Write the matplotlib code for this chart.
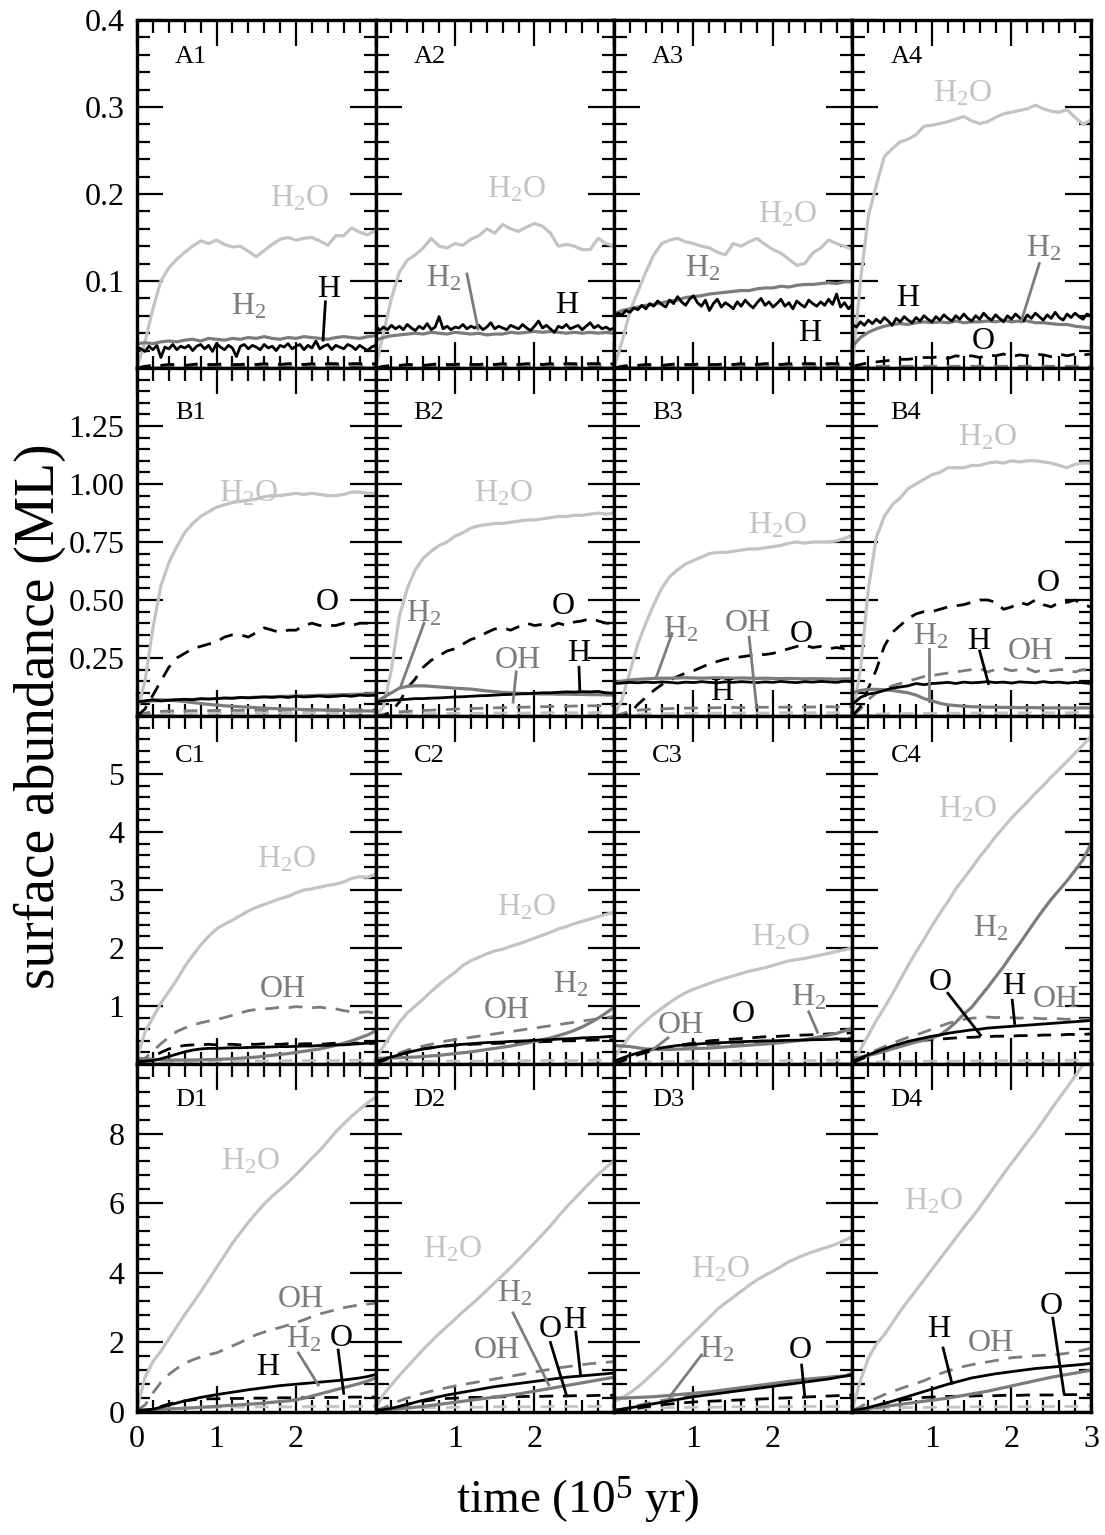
import matplotlib
matplotlib.use("Agg")
import matplotlib.pyplot as plt

plt.rcParams['font.family'] = ['Liberation Serif', 'DejaVu Serif']
plt.rcParams['mathtext.fontset'] = 'custom'
plt.rcParams['mathtext.rm'] = 'Liberation Serif'
plt.rcParams['mathtext.it'] = 'Liberation Serif'

# time grid (10^5 yr); the noisy H traces of row A are sampled finer
T = [i / 10 for i in range(31)]
TF = [i / 20 for i in range(61)]

# ---------------- row A ----------------
A1_H2O = [0.000, 0.030, 0.068, 0.100, 0.115, 0.125, 0.133, 0.140, 0.146, 0.143, 0.147, 0.142, 0.139, 0.140, 0.134, 0.128,
          0.135, 0.142, 0.148, 0.150, 0.147, 0.149, 0.150, 0.146, 0.141, 0.152, 0.152, 0.161, 0.156, 0.153, 0.158]
A1_H2 = [0.028, 0.029, 0.028, 0.030, 0.031, 0.030, 0.032, 0.033, 0.031, 0.034, 0.033, 0.032, 0.034, 0.033, 0.035, 0.034,
         0.036, 0.034, 0.033, 0.035, 0.034, 0.036, 0.035, 0.034, 0.033, 0.035, 0.036, 0.035, 0.034, 0.036, 0.037]
A1_H = [0.024, 0.022, 0.019, 0.025, 0.021, 0.026, 0.012, 0.024, 0.022, 0.027, 0.021, 0.025, 0.023, 0.026, 0.020, 0.025,
        0.027, 0.022, 0.026, 0.019, 0.028, 0.024, 0.021, 0.026, 0.023, 0.013, 0.025, 0.027, 0.022, 0.026, 0.024, 0.021,
        0.027, 0.023, 0.025, 0.020, 0.026, 0.024, 0.028, 0.022, 0.025, 0.027, 0.021, 0.026, 0.023, 0.031, 0.022, 0.025,
        0.027, 0.021, 0.026, 0.024, 0.022, 0.027, 0.025, 0.021, 0.026, 0.023, 0.020, 0.024, 0.026]
A_O = [0.000, 0.002, 0.003, 0.003, 0.004, 0.004, 0.003, 0.004, 0.005, 0.004, 0.004, 0.005, 0.004, 0.004, 0.005, 0.004,
       0.005, 0.004, 0.004, 0.005, 0.005, 0.004, 0.005, 0.004, 0.005, 0.005, 0.004, 0.005, 0.005, 0.004, 0.005]
A_OH = [0.000, 0.001, 0.001, 0.002, 0.002, 0.002, 0.002, 0.002, 0.002, 0.002, 0.002, 0.002, 0.002, 0.002, 0.002, 0.002,
        0.002, 0.002, 0.002, 0.002, 0.002, 0.002, 0.002, 0.002, 0.002, 0.002, 0.002, 0.002, 0.002, 0.002, 0.002]

A2_H2O = [0.000, 0.040, 0.080, 0.110, 0.124, 0.130, 0.138, 0.149, 0.140, 0.138, 0.143, 0.141, 0.148, 0.152, 0.160, 0.155,
          0.165, 0.160, 0.157, 0.162, 0.166, 0.163, 0.155, 0.140, 0.142, 0.140, 0.136, 0.136, 0.149, 0.143, 0.140]
A2_H2 = [0.032, 0.035, 0.037, 0.038, 0.039, 0.040, 0.039, 0.041, 0.040, 0.039, 0.041, 0.040, 0.039, 0.040, 0.038, 0.039,
         0.039, 0.041, 0.040, 0.041, 0.042, 0.041, 0.042, 0.041, 0.040, 0.041, 0.040, 0.041, 0.040, 0.041, 0.040]
A2_H = [0.050, 0.043, 0.047, 0.044, 0.049, 0.045, 0.048, 0.044, 0.050, 0.046, 0.043, 0.048, 0.045, 0.051, 0.044, 0.047,
        0.059, 0.045, 0.048, 0.044, 0.047, 0.046, 0.050, 0.045, 0.048, 0.046, 0.049, 0.044, 0.047, 0.052, 0.045, 0.048,
        0.046, 0.044, 0.049, 0.047, 0.045, 0.050, 0.046, 0.043, 0.048, 0.054, 0.046, 0.049, 0.045, 0.041, 0.048, 0.046,
        0.050, 0.045, 0.047, 0.049, 0.044, 0.048, 0.052, 0.046, 0.049, 0.045, 0.047, 0.044, 0.046]

A3_H2O = [0.000, 0.030, 0.065, 0.088, 0.110, 0.130, 0.143, 0.147, 0.149, 0.145, 0.143, 0.140, 0.138, 0.133, 0.130, 0.143,
          0.140, 0.145, 0.149, 0.142, 0.136, 0.132, 0.125, 0.118, 0.120, 0.132, 0.138, 0.147, 0.143, 0.140, 0.136]
A3_H2 = [0.062, 0.066, 0.068, 0.070, 0.072, 0.073, 0.075, 0.077, 0.078, 0.081, 0.082, 0.083, 0.085, 0.086, 0.087, 0.088,
         0.089, 0.089, 0.091, 0.092, 0.092, 0.094, 0.093, 0.095, 0.096, 0.096, 0.097, 0.098, 0.097, 0.099, 0.099]
A3_H = [0.058, 0.063, 0.061, 0.066, 0.064, 0.069, 0.067, 0.072, 0.068, 0.074, 0.071, 0.077, 0.073, 0.070, 0.078, 0.074,
        0.082, 0.076, 0.072, 0.079, 0.083, 0.075, 0.071, 0.078, 0.066, 0.074, 0.079, 0.070, 0.075, 0.072, 0.068, 0.076,
        0.071, 0.078, 0.073, 0.069, 0.075, 0.080, 0.072, 0.076, 0.070, 0.074, 0.079, 0.071, 0.075, 0.068, 0.077, 0.073,
        0.070, 0.078, 0.074, 0.071, 0.076, 0.072, 0.079, 0.073, 0.085, 0.070, 0.075, 0.068, 0.073]

A4_H2O = [0.000, 0.100, 0.175, 0.210, 0.243, 0.252, 0.260, 0.263, 0.268, 0.278, 0.279, 0.281, 0.283, 0.286, 0.289, 0.284,
          0.281, 0.283, 0.288, 0.292, 0.294, 0.296, 0.298, 0.302, 0.298, 0.295, 0.294, 0.297, 0.288, 0.280, 0.285]
A4_H2 = [0.025, 0.035, 0.041, 0.045, 0.048, 0.050, 0.051, 0.050, 0.052, 0.053, 0.052, 0.053, 0.052, 0.054, 0.052, 0.053,
         0.053, 0.054, 0.053, 0.055, 0.053, 0.054, 0.054, 0.052, 0.052, 0.051, 0.050, 0.050, 0.048, 0.047, 0.046]
A4_H = [0.050, 0.047, 0.053, 0.049, 0.055, 0.051, 0.056, 0.052, 0.058, 0.054, 0.049, 0.057, 0.053, 0.059, 0.055, 0.052,
        0.058, 0.054, 0.060, 0.056, 0.053, 0.059, 0.055, 0.061, 0.057, 0.054, 0.060, 0.056, 0.062, 0.057, 0.054, 0.060,
        0.056, 0.063, 0.058, 0.055, 0.061, 0.057, 0.053, 0.060, 0.056, 0.062, 0.058, 0.054, 0.061, 0.057, 0.063, 0.059,
        0.055, 0.061, 0.057, 0.064, 0.058, 0.055, 0.062, 0.058, 0.063, 0.059, 0.056, 0.062, 0.060]
A4_O = [0.002, 0.004, 0.006, 0.007, 0.008, 0.009, 0.010, 0.010, 0.011, 0.012, 0.012, 0.013, 0.011, 0.014, 0.013, 0.014,
        0.012, 0.015, 0.014, 0.016, 0.013, 0.015, 0.014, 0.016, 0.015, 0.013, 0.016, 0.014, 0.016, 0.015, 0.016]

# ---------------- row B ----------------
B1_H2O = [0.020, 0.150, 0.380, 0.560, 0.660, 0.730, 0.790, 0.830, 0.860, 0.880, 0.900, 0.910, 0.920, 0.925, 0.930, 0.935,
          0.945, 0.950, 0.950, 0.955, 0.960, 0.955, 0.960, 0.955, 0.950, 0.950, 0.955, 0.965, 0.965, 0.960, 0.960]
B1_O = [0.000, 0.030, 0.090, 0.150, 0.210, 0.250, 0.270, 0.290, 0.300, 0.310, 0.320, 0.340, 0.350, 0.350, 0.340, 0.360,
        0.380, 0.370, 0.360, 0.370, 0.370, 0.390, 0.400, 0.390, 0.390, 0.390, 0.400, 0.390, 0.400, 0.400, 0.410]
B1_H = [0.060, 0.065, 0.070, 0.065, 0.068, 0.070, 0.072, 0.070, 0.075, 0.073, 0.075, 0.078, 0.076, 0.080, 0.078, 0.080,
        0.082, 0.080, 0.083, 0.080, 0.085, 0.082, 0.084, 0.086, 0.083, 0.085, 0.088, 0.085, 0.090, 0.088, 0.090]
B1_H2 = [0.060, 0.065, 0.068, 0.070, 0.068, 0.066, 0.062, 0.058, 0.054, 0.050, 0.047, 0.044, 0.042, 0.040, 0.038, 0.036,
         0.034, 0.032, 0.031, 0.030, 0.029, 0.028, 0.027, 0.026, 0.025, 0.024, 0.024, 0.023, 0.022, 0.022, 0.021]
B1_H2O2 = [0.060, 0.062, 0.064, 0.066, 0.068, 0.070, 0.071, 0.072, 0.073, 0.074, 0.075, 0.076, 0.078, 0.079, 0.080, 0.082,
           0.083, 0.084, 0.085, 0.086, 0.087, 0.088, 0.089, 0.090, 0.091, 0.092, 0.093, 0.094, 0.095, 0.096, 0.098]
B1_OH = [0.000, 0.012, 0.018, 0.020, 0.021, 0.022, 0.022, 0.023, 0.023, 0.023, 0.024, 0.024, 0.024, 0.024, 0.025, 0.025,
         0.025, 0.025, 0.025, 0.026, 0.026, 0.026, 0.026, 0.026, 0.026, 0.027, 0.027, 0.027, 0.027, 0.027, 0.027]
B_O2 = [0.000, 0.004, 0.006, 0.008, 0.009, 0.010, 0.010, 0.011, 0.011, 0.011, 0.012, 0.012, 0.012, 0.012, 0.012, 0.013,
        0.013, 0.013, 0.013, 0.013, 0.013, 0.014, 0.014, 0.014, 0.014, 0.014, 0.014, 0.014, 0.015, 0.015, 0.015]

B2_H2O = [0.000, 0.040, 0.200, 0.430, 0.550, 0.630, 0.680, 0.710, 0.735, 0.750, 0.775, 0.790, 0.810, 0.820, 0.825, 0.830,
          0.830, 0.835, 0.840, 0.845, 0.845, 0.850, 0.855, 0.860, 0.860, 0.865, 0.865, 0.870, 0.875, 0.870, 0.875]
B2_O = [0.000, 0.000, 0.020, 0.060, 0.120, 0.160, 0.210, 0.240, 0.260, 0.280, 0.290, 0.310, 0.330, 0.340, 0.360, 0.375,
        0.380, 0.370, 0.385, 0.400, 0.390, 0.395, 0.385, 0.400, 0.390, 0.405, 0.410, 0.420, 0.410, 0.400, 0.400]
B2_H2 = [0.060, 0.080, 0.100, 0.120, 0.128, 0.130, 0.130, 0.128, 0.125, 0.123, 0.120, 0.118, 0.116, 0.112, 0.108, 0.105,
         0.102, 0.100, 0.098, 0.097, 0.096, 0.095, 0.095, 0.094, 0.094, 0.093, 0.093, 0.092, 0.092, 0.091, 0.090]
B2_H = [0.060, 0.065, 0.068, 0.070, 0.072, 0.075, 0.075, 0.077, 0.078, 0.080, 0.082, 0.083, 0.085, 0.087, 0.088, 0.090,
        0.092, 0.093, 0.095, 0.096, 0.098, 0.100, 0.100, 0.102, 0.104, 0.103, 0.105, 0.104, 0.106, 0.100, 0.098]
B2_OH = [0.000, 0.008, 0.014, 0.018, 0.020, 0.022, 0.024, 0.025, 0.027, 0.028, 0.030, 0.031, 0.032, 0.033, 0.034, 0.035,
         0.036, 0.037, 0.038, 0.038, 0.040, 0.040, 0.041, 0.042, 0.042, 0.043, 0.043, 0.044, 0.044, 0.045, 0.045]

B3_H2O = [0.000, 0.070, 0.190, 0.310, 0.400, 0.480, 0.550, 0.600, 0.630, 0.655, 0.670, 0.685, 0.700, 0.705, 0.705, 0.710,
          0.715, 0.720, 0.720, 0.725, 0.730, 0.735, 0.745, 0.750, 0.745, 0.750, 0.750, 0.750, 0.755, 0.765, 0.780]
B3_H2 = [0.145, 0.150, 0.155, 0.158, 0.160, 0.162, 0.163, 0.163, 0.164, 0.165, 0.164, 0.163, 0.164, 0.165, 0.164, 0.163,
         0.164, 0.163, 0.162, 0.163, 0.162, 0.161, 0.162, 0.161, 0.160, 0.161, 0.160, 0.160, 0.159, 0.160, 0.160]
B3_H = [0.140, 0.142, 0.145, 0.143, 0.146, 0.144, 0.147, 0.145, 0.142, 0.146, 0.144, 0.148, 0.145, 0.143, 0.147, 0.145,
        0.148, 0.146, 0.144, 0.147, 0.145, 0.149, 0.146, 0.144, 0.148, 0.146, 0.149, 0.147, 0.145, 0.150, 0.148]
B3_O = [0.000, 0.000, 0.010, 0.050, 0.080, 0.110, 0.135, 0.155, 0.170, 0.185, 0.195, 0.210, 0.225, 0.235, 0.245, 0.250,
        0.255, 0.260, 0.265, 0.265, 0.270, 0.280, 0.290, 0.300, 0.305, 0.295, 0.300, 0.290, 0.295, 0.290, 0.290]
B3_OH = [0.000, 0.010, 0.020, 0.025, 0.028, 0.030, 0.031, 0.032, 0.033, 0.034, 0.034, 0.035, 0.035, 0.036, 0.036, 0.037,
         0.036, 0.037, 0.037, 0.038, 0.037, 0.038, 0.038, 0.039, 0.038, 0.039, 0.039, 0.040, 0.039, 0.040, 0.040]

B4_H2O = [0.000, 0.200, 0.550, 0.770, 0.860, 0.910, 0.940, 0.980, 1.000, 1.020, 1.040, 1.050, 1.070, 1.070, 1.070, 1.080,
          1.080, 1.090, 1.095, 1.090, 1.100, 1.095, 1.100, 1.100, 1.095, 1.090, 1.080, 1.070, 1.085, 1.090, 1.090]
B4_O = [0.000, 0.040, 0.120, 0.200, 0.300, 0.360, 0.390, 0.420, 0.440, 0.450, 0.450, 0.460, 0.470, 0.475, 0.480, 0.490,
        0.500, 0.500, 0.490, 0.460, 0.470, 0.490, 0.480, 0.500, 0.480, 0.470, 0.490, 0.490, 0.500, 0.480, 0.470]
B4_H = [0.050, 0.080, 0.095, 0.100, 0.110, 0.120, 0.125, 0.130, 0.140, 0.135, 0.140, 0.142, 0.145, 0.140, 0.146, 0.143,
        0.145, 0.148, 0.144, 0.146, 0.142, 0.147, 0.145, 0.143, 0.148, 0.144, 0.146, 0.142, 0.145, 0.143, 0.140]
B4_H2 = [0.100, 0.110, 0.115, 0.115, 0.113, 0.110, 0.105, 0.100, 0.090, 0.075, 0.065, 0.055, 0.048, 0.045, 0.042, 0.040,
         0.039, 0.038, 0.038, 0.037, 0.037, 0.036, 0.036, 0.036, 0.035, 0.035, 0.035, 0.035, 0.034, 0.035, 0.035]
B4_OH = [0.000, 0.030, 0.070, 0.100, 0.115, 0.130, 0.140, 0.150, 0.160, 0.170, 0.175, 0.180, 0.185, 0.190, 0.195, 0.200,
         0.205, 0.190, 0.200, 0.205, 0.195, 0.200, 0.205, 0.190, 0.200, 0.195, 0.200, 0.200, 0.190, 0.200, 0.195]

# ---------------- row C ----------------
C1_H2O = [0.100, 0.550, 0.800, 1.050, 1.250, 1.450, 1.680, 1.870, 2.050, 2.200, 2.330, 2.410, 2.480, 2.560, 2.640, 2.700,
          2.750, 2.800, 2.850, 2.890, 2.950, 3.000, 3.020, 3.050, 3.080, 3.100, 3.140, 3.200, 3.230, 3.220, 3.270]
C1_OH = [0.050, 0.100, 0.220, 0.350, 0.460, 0.560, 0.620, 0.670, 0.710, 0.740, 0.770, 0.800, 0.840, 0.880, 0.920, 0.940,
         0.950, 0.960, 0.980, 0.970, 0.990, 0.980, 0.970, 0.980, 0.960, 0.950, 0.920, 0.900, 0.890, 0.900, 0.880]
C1_O = [0.000, 0.050, 0.120, 0.200, 0.260, 0.300, 0.320, 0.330, 0.330, 0.340, 0.330, 0.340, 0.340, 0.330, 0.340, 0.340,
        0.350, 0.340, 0.340, 0.350, 0.340, 0.350, 0.350, 0.340, 0.350, 0.360, 0.350, 0.360, 0.360, 0.350, 0.360]
C1_H = [0.050, 0.050, 0.060, 0.090, 0.130, 0.170, 0.210, 0.240, 0.260, 0.270, 0.270, 0.275, 0.280, 0.280, 0.285, 0.290,
        0.290, 0.295, 0.300, 0.300, 0.305, 0.310, 0.310, 0.320, 0.320, 0.330, 0.330, 0.340, 0.350, 0.360, 0.370]
C1_H2 = [0.100, 0.090, 0.080, 0.075, 0.070, 0.068, 0.068, 0.070, 0.072, 0.075, 0.080, 0.085, 0.090, 0.100, 0.110, 0.120,
         0.135, 0.150, 0.165, 0.180, 0.200, 0.220, 0.240, 0.260, 0.290, 0.320, 0.360, 0.400, 0.450, 0.500, 0.570]
C_O2 = [0.000, 0.020, 0.030, 0.035, 0.040, 0.040, 0.045, 0.045, 0.045, 0.050, 0.050, 0.050, 0.050, 0.050, 0.055, 0.055,
        0.055, 0.055, 0.055, 0.060, 0.060, 0.060, 0.060, 0.060, 0.060, 0.060, 0.065, 0.065, 0.065, 0.065, 0.065]

C2_H2O = [0.100, 0.300, 0.520, 0.720, 0.880, 1.000, 1.120, 1.250, 1.370, 1.480, 1.580, 1.700, 1.780, 1.840, 1.900, 1.950,
          1.980, 2.030, 2.070, 2.120, 2.170, 2.220, 2.270, 2.330, 2.370, 2.420, 2.460, 2.500, 2.540, 2.580, 2.620]
C2_H2 = [0.100, 0.100, 0.105, 0.110, 0.115, 0.120, 0.130, 0.140, 0.150, 0.165, 0.180, 0.195, 0.210, 0.230, 0.250, 0.270,
         0.290, 0.310, 0.335, 0.360, 0.390, 0.420, 0.450, 0.490, 0.530, 0.580, 0.640, 0.710, 0.790, 0.880, 0.980]
C2_OH = [0.050, 0.090, 0.140, 0.190, 0.240, 0.280, 0.310, 0.340, 0.370, 0.400, 0.420, 0.440, 0.460, 0.480, 0.500, 0.520,
         0.540, 0.560, 0.580, 0.600, 0.620, 0.640, 0.660, 0.680, 0.700, 0.720, 0.740, 0.760, 0.780, 0.800, 0.820]
C2_H = [0.050, 0.080, 0.120, 0.160, 0.200, 0.230, 0.260, 0.280, 0.300, 0.320, 0.330, 0.340, 0.350, 0.360, 0.370, 0.375,
        0.380, 0.390, 0.395, 0.400, 0.410, 0.415, 0.420, 0.430, 0.435, 0.440, 0.450, 0.455, 0.460, 0.470, 0.480]
C2_O = [0.020, 0.060, 0.110, 0.160, 0.200, 0.230, 0.260, 0.280, 0.300, 0.310, 0.320, 0.330, 0.340, 0.345, 0.350, 0.355,
        0.360, 0.365, 0.370, 0.375, 0.380, 0.385, 0.390, 0.395, 0.400, 0.400, 0.405, 0.410, 0.415, 0.415, 0.420]

C3_H2O = [0.100, 0.300, 0.480, 0.620, 0.740, 0.860, 0.960, 1.060, 1.150, 1.230, 1.290, 1.340, 1.390, 1.440, 1.480, 1.520,
          1.560, 1.600, 1.630, 1.660, 1.700, 1.740, 1.780, 1.800, 1.820, 1.850, 1.880, 1.910, 1.940, 1.970, 2.000]
C3_H2 = [0.320, 0.310, 0.300, 0.280, 0.260, 0.255, 0.250, 0.250, 0.255, 0.260, 0.265, 0.270, 0.275, 0.285, 0.295, 0.305,
         0.315, 0.325, 0.335, 0.345, 0.355, 0.370, 0.385, 0.400, 0.420, 0.445, 0.470, 0.500, 0.530, 0.570, 0.620]
C3_O = [0.000, 0.050, 0.110, 0.160, 0.200, 0.230, 0.260, 0.290, 0.320, 0.340, 0.360, 0.380, 0.400, 0.410, 0.420, 0.430,
        0.440, 0.450, 0.460, 0.470, 0.475, 0.480, 0.490, 0.495, 0.500, 0.505, 0.510, 0.520, 0.525, 0.530, 0.540]
C3_H = [0.050, 0.100, 0.150, 0.190, 0.230, 0.260, 0.280, 0.300, 0.320, 0.330, 0.340, 0.350, 0.360, 0.365, 0.370, 0.380,
        0.385, 0.390, 0.395, 0.400, 0.400, 0.405, 0.410, 0.410, 0.415, 0.420, 0.420, 0.425, 0.430, 0.430, 0.430]
C3_OH = [0.050, 0.080, 0.120, 0.160, 0.200, 0.230, 0.250, 0.270, 0.290, 0.300, 0.310, 0.320, 0.330, 0.340, 0.350, 0.355,
         0.360, 0.370, 0.375, 0.380, 0.390, 0.395, 0.400, 0.405, 0.410, 0.420, 0.425, 0.430, 0.440, 0.445, 0.450]

C4_H2O = [0.050, 0.250, 0.500, 0.750, 0.970, 1.200, 1.450, 1.700, 1.930, 2.150, 2.380, 2.600, 2.800, 3.020, 3.200, 3.380,
          3.570, 3.740, 3.920, 4.080, 4.240, 4.380, 4.520, 4.670, 4.800, 4.950, 5.080, 5.220, 5.360, 5.500, 5.650]
C4_H2 = [0.100, 0.120, 0.150, 0.180, 0.220, 0.260, 0.300, 0.340, 0.380, 0.410, 0.450, 0.500, 0.600, 0.720, 0.860, 0.980,
         1.150, 1.320, 1.500, 1.680, 1.880, 2.070, 2.270, 2.470, 2.660, 2.840, 3.000, 3.160, 3.340, 3.520, 3.800]
C4_OH = [0.050, 0.100, 0.170, 0.240, 0.300, 0.360, 0.410, 0.460, 0.500, 0.550, 0.600, 0.650, 0.700, 0.740, 0.770, 0.790,
         0.800, 0.810, 0.800, 0.810, 0.800, 0.790, 0.800, 0.790, 0.780, 0.790, 0.780, 0.770, 0.780, 0.770, 0.770]
C4_H = [0.050, 0.100, 0.160, 0.210, 0.260, 0.310, 0.350, 0.390, 0.420, 0.450, 0.480, 0.500, 0.530, 0.550, 0.570, 0.590,
        0.600, 0.620, 0.630, 0.640, 0.650, 0.660, 0.670, 0.680, 0.690, 0.700, 0.710, 0.720, 0.730, 0.740, 0.750]
C4_O = [0.020, 0.080, 0.140, 0.200, 0.250, 0.300, 0.340, 0.370, 0.390, 0.410, 0.420, 0.430, 0.440, 0.450, 0.460, 0.460,
        0.470, 0.470, 0.480, 0.480, 0.480, 0.490, 0.490, 0.490, 0.500, 0.500, 0.500, 0.510, 0.510, 0.510, 0.520]

# ---------------- row D ----------------
D1_H2O = [0.100, 1.000, 1.450, 1.750, 2.100, 2.450, 2.800, 3.120, 3.450, 3.800, 4.150, 4.500, 4.850, 5.150, 5.450, 5.720,
          5.980, 6.200, 6.400, 6.600, 6.820, 7.050, 7.300, 7.520, 7.780, 8.050, 8.280, 8.500, 8.700, 8.880, 9.050]
D1_OH = [0.050, 0.200, 0.550, 0.850, 1.080, 1.250, 1.400, 1.500, 1.580, 1.650, 1.700, 1.800, 1.900, 2.000, 2.120, 2.220,
         2.300, 2.370, 2.430, 2.500, 2.570, 2.650, 2.740, 2.820, 2.880, 2.940, 3.000, 3.040, 3.080, 3.100, 3.130]
D1_H = [0.050, 0.060, 0.080, 0.140, 0.200, 0.260, 0.320, 0.370, 0.420, 0.460, 0.500, 0.535, 0.570, 0.605, 0.640, 0.670,
        0.700, 0.730, 0.760, 0.780, 0.800, 0.820, 0.840, 0.860, 0.880, 0.900, 0.920, 0.950, 0.980, 1.020, 1.080]
D1_H2 = [0.050, 0.060, 0.070, 0.080, 0.090, 0.100, 0.110, 0.120, 0.135, 0.150, 0.165, 0.180, 0.195, 0.210, 0.225, 0.240,
         0.260, 0.280, 0.300, 0.320, 0.350, 0.400, 0.460, 0.520, 0.580, 0.640, 0.700, 0.760, 0.820, 0.890, 0.980]
D1_O = [0.000, 0.040, 0.100, 0.160, 0.230, 0.280, 0.320, 0.350, 0.370, 0.380, 0.380, 0.390, 0.390, 0.390, 0.400, 0.400,
        0.400, 0.400, 0.410, 0.410, 0.410, 0.410, 0.420, 0.420, 0.420, 0.420, 0.420, 0.430, 0.430, 0.430, 0.430]
D_O2 = [0.000, 0.050, 0.080, 0.100, 0.110, 0.120, 0.120, 0.130, 0.130, 0.130, 0.140, 0.140, 0.140, 0.140, 0.140, 0.150,
        0.150, 0.150, 0.150, 0.150, 0.150, 0.150, 0.160, 0.160, 0.160, 0.160, 0.160, 0.160, 0.160, 0.170, 0.170]

D2_H2O = [0.100, 0.500, 0.780, 1.050, 1.300, 1.550, 1.800, 2.030, 2.250, 2.460, 2.670, 2.880, 3.080, 3.280, 3.500, 3.720,
          3.930, 4.150, 4.380, 4.620, 4.860, 5.100, 5.350, 5.620, 5.880, 6.120, 6.360, 6.600, 6.820, 7.030, 7.220]
D2_OH = [0.050, 0.120, 0.220, 0.320, 0.400, 0.470, 0.540, 0.600, 0.650, 0.700, 0.750, 0.790, 0.830, 0.870, 0.910, 0.950,
         0.990, 1.030, 1.070, 1.110, 1.150, 1.190, 1.230, 1.270, 1.300, 1.330, 1.360, 1.390, 1.410, 1.430, 1.450]
D2_H = [0.050, 0.070, 0.110, 0.160, 0.220, 0.280, 0.340, 0.390, 0.440, 0.490, 0.530, 0.570, 0.610, 0.650, 0.690, 0.730,
        0.760, 0.790, 0.820, 0.850, 0.880, 0.910, 0.940, 0.970, 1.000, 1.020, 1.040, 1.060, 1.080, 1.100, 1.120]
D2_H2 = [0.050, 0.060, 0.080, 0.100, 0.120, 0.140, 0.160, 0.190, 0.220, 0.250, 0.280, 0.310, 0.340, 0.370, 0.400, 0.430,
         0.460, 0.490, 0.520, 0.560, 0.600, 0.640, 0.680, 0.720, 0.760, 0.800, 0.840, 0.880, 0.920, 0.960, 1.000]
D2_O = [0.000, 0.040, 0.100, 0.160, 0.220, 0.270, 0.310, 0.340, 0.370, 0.390, 0.400, 0.410, 0.420, 0.420, 0.430, 0.430,
        0.440, 0.440, 0.440, 0.450, 0.450, 0.450, 0.460, 0.460, 0.460, 0.470, 0.470, 0.470, 0.480, 0.480, 0.480]

D3_H2O = [0.300, 0.400, 0.550, 0.720, 0.920, 1.130, 1.350, 1.580, 1.820, 2.050, 2.270, 2.500, 2.720, 2.950, 3.130, 3.300,
          3.470, 3.640, 3.800, 3.930, 4.050, 4.180, 4.320, 4.420, 4.520, 4.600, 4.680, 4.750, 4.830, 4.930, 5.040]
D3_H2 = [0.400, 0.400, 0.410, 0.420, 0.430, 0.440, 0.460, 0.480, 0.500, 0.520, 0.540, 0.560, 0.580, 0.610, 0.640, 0.670,
         0.700, 0.730, 0.760, 0.790, 0.820, 0.850, 0.880, 0.910, 0.940, 0.960, 0.980, 1.000, 1.020, 1.040, 1.060]
D3_H = [0.050, 0.080, 0.120, 0.160, 0.200, 0.240, 0.280, 0.320, 0.360, 0.400, 0.440, 0.470, 0.500, 0.530, 0.560, 0.590,
        0.620, 0.650, 0.680, 0.710, 0.740, 0.770, 0.800, 0.830, 0.860, 0.890, 0.920, 0.950, 0.990, 1.030, 1.070]
D3_OH = [0.050, 0.090, 0.140, 0.190, 0.240, 0.290, 0.330, 0.370, 0.410, 0.450, 0.480, 0.510, 0.540, 0.570, 0.600, 0.630,
         0.660, 0.690, 0.720, 0.750, 0.780, 0.810, 0.840, 0.870, 0.900, 0.930, 0.960, 0.990, 1.030, 1.070, 1.110]
D3_O = [0.000, 0.030, 0.070, 0.110, 0.150, 0.180, 0.210, 0.230, 0.250, 0.270, 0.290, 0.300, 0.310, 0.320, 0.330, 0.340,
        0.350, 0.360, 0.370, 0.380, 0.390, 0.400, 0.410, 0.420, 0.430, 0.440, 0.450, 0.460, 0.470, 0.480, 0.490]

D4_H2O = [0.100, 0.900, 1.550, 1.950, 2.220, 2.550, 2.900, 3.200, 3.500, 3.800, 4.100, 4.400, 4.700, 5.000, 5.300, 5.580,
          5.880, 6.200, 6.520, 6.840, 7.150, 7.450, 7.750, 8.050, 8.370, 8.700, 9.020, 9.330, 9.650, 9.980, 10.30]
D4_OH = [0.050, 0.150, 0.280, 0.400, 0.500, 0.590, 0.670, 0.750, 0.820, 0.900, 1.000, 1.100, 1.180, 1.250, 1.310, 1.360,
         1.400, 1.440, 1.480, 1.520, 1.560, 1.580, 1.600, 1.620, 1.630, 1.640, 1.660, 1.690, 1.730, 1.780, 1.840]
D4_H = [0.050, 0.080, 0.130, 0.190, 0.250, 0.310, 0.380, 0.450, 0.520, 0.590, 0.660, 0.730, 0.800, 0.860, 0.920, 0.980,
        1.020, 1.060, 1.100, 1.130, 1.160, 1.190, 1.220, 1.250, 1.270, 1.290, 1.310, 1.330, 1.350, 1.370, 1.400]
D4_H2 = [0.050, 0.070, 0.100, 0.130, 0.160, 0.190, 0.220, 0.250, 0.280, 0.310, 0.340, 0.370, 0.400, 0.440, 0.480, 0.520,
         0.560, 0.600, 0.650, 0.700, 0.750, 0.800, 0.850, 0.900, 0.950, 1.000, 1.040, 1.080, 1.120, 1.160, 1.200]
D4_O = [0.000, 0.040, 0.100, 0.170, 0.240, 0.300, 0.340, 0.370, 0.400, 0.420, 0.430, 0.440, 0.450, 0.450, 0.460, 0.460,
        0.470, 0.470, 0.470, 0.480, 0.480, 0.480, 0.490, 0.490, 0.490, 0.490, 0.500, 0.500, 0.500, 0.500, 0.500]

LIGHT = '#c3c3c3'
MID = '#7c7c7c'
STY = {
    'H2O': dict(color=LIGHT, ls='-', lw=2.3),
    'H2': dict(color=MID, ls='-', lw=2.3),
    'H': dict(color='black', ls='-', lw=2.0),
    'O': dict(color='black', ls=(0, (5, 3.5)), lw=2.0),
    'OH': dict(color=MID, ls=(0, (5, 3.5)), lw=2.0),
    'O2': dict(color=LIGHT, ls=(0, (5, 3.5)), lw=2.0),
    'H2O2': dict(color=MID, ls='-', lw=2.0),
}

# curves of each panel: (style key, x grid, values); drawn back to front
PANELS = {
    'A1': [('OH', T, A_OH), ('O', T, A_O), ('H2O', T, A1_H2O), ('H', TF, A1_H), ('H2', T, A1_H2)],
    'A2': [('OH', T, A_OH), ('O', T, A_O), ('H2O', T, A2_H2O), ('H2', T, A2_H2), ('H', TF, A2_H)],
    'A3': [('OH', T, A_OH), ('O', T, A_O), ('H2O', T, A3_H2O), ('H2', T, A3_H2), ('H', TF, A3_H)],
    'A4': [('OH', T, A_OH), ('O', T, A4_O), ('H2O', T, A4_H2O), ('H2', T, A4_H2), ('H', TF, A4_H)],
    'B1': [('O2', T, B_O2), ('OH', T, B1_OH), ('H2O', T, B1_H2O), ('O', T, B1_O), ('H2', T, B1_H2),
           ('H2O2', T, B1_H2O2), ('H', T, B1_H)],
    'B2': [('O2', T, B_O2), ('OH', T, B2_OH), ('H2O', T, B2_H2O), ('O', T, B2_O), ('H2', T, B2_H2), ('H', T, B2_H)],
    'B3': [('O2', T, B_O2), ('OH', T, B3_OH), ('H2O', T, B3_H2O), ('O', T, B3_O), ('H2', T, B3_H2), ('H', T, B3_H)],
    'B4': [('O2', T, B_O2), ('OH', T, B4_OH), ('H2O', T, B4_H2O), ('O', T, B4_O), ('H2', T, B4_H2), ('H', T, B4_H)],
    'C1': [('O2', T, C_O2), ('H2O', T, C1_H2O), ('OH', T, C1_OH), ('O', T, C1_O), ('H2', T, C1_H2), ('H', T, C1_H)],
    'C2': [('O2', T, C_O2), ('H2O', T, C2_H2O), ('OH', T, C2_OH), ('O', T, C2_O), ('H2', T, C2_H2), ('H', T, C2_H)],
    'C3': [('O2', T, C_O2), ('H2O', T, C3_H2O), ('OH', T, C3_OH), ('O', T, C3_O), ('H2', T, C3_H2), ('H', T, C3_H)],
    'C4': [('O2', T, C_O2), ('H2O', T, C4_H2O), ('OH', T, C4_OH), ('O', T, C4_O), ('H2', T, C4_H2), ('H', T, C4_H)],
    'D1': [('O2', T, D_O2), ('H2O', T, D1_H2O), ('OH', T, D1_OH), ('O', T, D1_O), ('H2', T, D1_H2), ('H', T, D1_H)],
    'D2': [('O2', T, D_O2), ('H2O', T, D2_H2O), ('OH', T, D2_OH), ('O', T, D2_O), ('H2', T, D2_H2), ('H', T, D2_H)],
    'D3': [('O2', T, D_O2), ('H2O', T, D3_H2O), ('OH', T, D3_OH), ('O', T, D3_O), ('H2', T, D3_H2), ('H', T, D3_H)],
    'D4': [('O2', T, D_O2), ('H2O', T, D4_H2O), ('OH', T, D4_OH), ('O', T, D4_O), ('H2', T, D4_H2), ('H', T, D4_H)],
}

NAMES = {'H2O': r'H$_2$O', 'H2': r'H$_2$', 'H': 'H', 'O': 'O', 'OH': 'OH'}
LCOL = {'H2O': LIGHT, 'H2': MID, 'H': 'black', 'O': 'black', 'OH': MID}

# species labels: (species, x, y, leader line or None)
LABELS = {
    'A1': [('H2O', 2.05, 0.195, None), ('H2', 1.41, 0.070, None), ('H', 2.41, 0.090, (2.37, 0.076, 2.34, 0.032))],
    'A2': [('H2O', 1.77, 0.205, None), ('H2', 0.86, 0.103, (1.15, 0.108, 1.29, 0.045)), ('H', 2.40, 0.072, None)],
    'A3': [('H2O', 2.18, 0.176, None), ('H2', 1.12, 0.114, None), ('H', 2.46, 0.040, None)],
    'A4': [('H2O', 1.39, 0.315, None), ('H2', 2.40, 0.137, (2.35, 0.120, 2.12, 0.053)), ('H', 0.69, 0.080, None),
           ('O', 1.64, 0.030, None)],
    'B1': [('H2O', 1.40, 0.96, None), ('O', 2.39, 0.49, None)],
    'B2': [('H2O', 1.61, 0.96, None), ('H2', 0.61, 0.44, (0.61, 0.40, 0.32, 0.13)), ('O', 2.36, 0.47, None),
           ('OH', 1.79, 0.24, (1.77, 0.19, 1.73, 0.06)), ('H', 2.56, 0.27, (2.56, 0.21, 2.57, 0.11))],
    'B3': [('H2O', 2.06, 0.82, None), ('H2', 0.84, 0.37, (0.73, 0.355, 0.53, 0.165)), ('OH', 1.68, 0.40,
           (1.70, 0.34, 1.79, 0.05)), ('O', 2.36, 0.35, None), ('H', 1.36, 0.10, None)],
    'B4': [('H2O', 1.70, 1.20, None), ('O', 2.46, 0.57, None), ('H2', 0.98, 0.34, (0.96, 0.29, 0.96, 0.065)),
           ('H', 1.59, 0.32, (1.60, 0.28, 1.71, 0.14)), ('OH', 2.24, 0.28, None)],
    'C1': [('H2O', 1.88, 3.52, None), ('OH', 1.83, 1.28, None)],
    'C2': [('H2O', 1.90, 2.70, None), ('OH', 1.65, 0.93, None), ('H2', 2.46, 1.36, None)],
    'C3': [('H2O', 2.10, 2.17, None), ('OH', 0.84, 0.67, (0.68, 0.45, 0.48, 0.24)), ('O', 1.63, 0.85, None),
           ('H2', 2.45, 1.15, (2.45, 0.90, 2.56, 0.55))],
    'C4': [('H2O', 1.45, 4.38, None), ('H2', 1.74, 2.34, None), ('O', 1.11, 1.40, (1.20, 1.22, 1.61, 0.50)),
           ('H', 2.03, 1.33, (2.01, 1.10, 2.04, 0.70)), ('OH', 2.56, 1.12, None)],
    'D1': [('H2O', 1.43, 7.20, None), ('OH', 2.06, 3.22, None), ('H2', 2.10, 2.07, (2.03, 1.70, 2.28, 0.78)),
           ('O', 2.57, 2.12, (2.53, 1.78, 2.60, 0.54)), ('H', 1.64, 1.27, None)],
    'D2': [('H2O', 0.97, 4.66, None), ('H2', 1.75, 3.40, (1.73, 2.85, 2.18, 0.78)), ('OH', 1.53, 1.78, None),
           ('O', 2.20, 2.36, (2.20, 2.00, 2.40, 0.50)), ('H', 2.50, 2.64, (2.52, 2.30, 2.58, 1.05))],
    'D3': [('H2O', 1.34, 4.08, None), ('H2', 1.29, 1.78, (1.10, 1.64, 0.70, 0.44)),
           ('O', 2.34, 1.78, (2.36, 1.35, 2.40, 0.44))],
    'D4': [('H2O', 1.02, 6.03, None), ('H', 1.09, 2.36, (1.14, 1.84, 1.25, 0.83)), ('OH', 1.74, 1.98, None),
           ('O', 2.50, 3.02, (2.52, 2.70, 2.66, 0.55))],
}

ROWS = 'ABCD'
YMAX = [0.4, 1.5, 6, 10]
YMAJOR = [[0, 0.1, 0.2, 0.3, 0.4], [0, 0.25, 0.5, 0.75, 1.0, 1.25, 1.5], [0, 1, 2, 3, 4, 5, 6],
          [0, 2, 4, 6, 8, 10]]
YTEXT = [['', '0.1', '0.2', '0.3', '0.4'], ['', '0.25', '0.50', '0.75', '1.00', '1.25', ''],
         ['', '1', '2', '3', '4', '5', ''], ['0', '2', '4', '6', '8', '']]
YMINOR = [0.02, 0.05, 0.2, 0.4]
XTEXT = [['0', '1', '2', ''], ['', '1', '2', ''], ['', '1', '2', ''], ['', '1', '2', '3']]
TAG_Y = [0.893, 0.870, 0.885, 0.896]

fig = plt.figure(figsize=(11.05, 15.35), dpi=100)
gs = fig.add_gridspec(4, 4, left=0.124, right=0.9873, top=0.987, bottom=0.0801, hspace=0, wspace=0)

for r, row in enumerate(ROWS):
    for c in range(4):
        name = f'{row}{c + 1}'
        ax = fig.add_subplot(gs[r, c])
        for key, xs, ys in PANELS[name]:
            ax.plot(xs, ys, **STY[key], solid_joinstyle='round', zorder=2)
        for key, lx, ly, lead in LABELS[name]:
            ax.text(lx, ly, NAMES[key], color=LCOL[key], fontsize=23, ha='center', va='center', zorder=4)
            if lead:
                ax.plot([lead[0], lead[2]], [lead[1], lead[3]], color=LCOL[key], lw=2.0, zorder=3)
        ax.text(0.16, TAG_Y[r], name, transform=ax.transAxes, fontsize=19, ha='left', va='center')

        ax.set_xlim(0, 3)
        ax.set_ylim(0, YMAX[r])
        ax.set_xticks([0, 1, 2, 3])
        ax.set_xticks([i * 0.2 for i in range(16)], minor=True)
        ax.set_yticks(YMAJOR[r])
        ax.set_yticks([i * YMINOR[r] for i in range(int(round(YMAX[r] / YMINOR[r])) + 1)], minor=True)
        ax.set_xticklabels(XTEXT[c] if r == 3 else [''] * 4)
        ax.set_yticklabels(YTEXT[r] if c == 0 else [''] * len(YMAJOR[r]))
        ax.tick_params(which='both', direction='in', top=True, right=True, width=1.6, labelsize=23)
        ax.tick_params(which='major', length=18.5, pad=9)
        ax.tick_params(which='minor', length=9)
        for sp in ax.spines.values():
            sp.set_linewidth(2.4)

fig.text(0.036, 0.5336, 'surface abundance (ML)', rotation=90, fontsize=40, ha='center', va='center')
fig.text(0.523, 0.0228, r'time (10$^5$ yr)', fontsize=34, ha='center', va='center')

fig.savefig('out.png', dpi=100)
